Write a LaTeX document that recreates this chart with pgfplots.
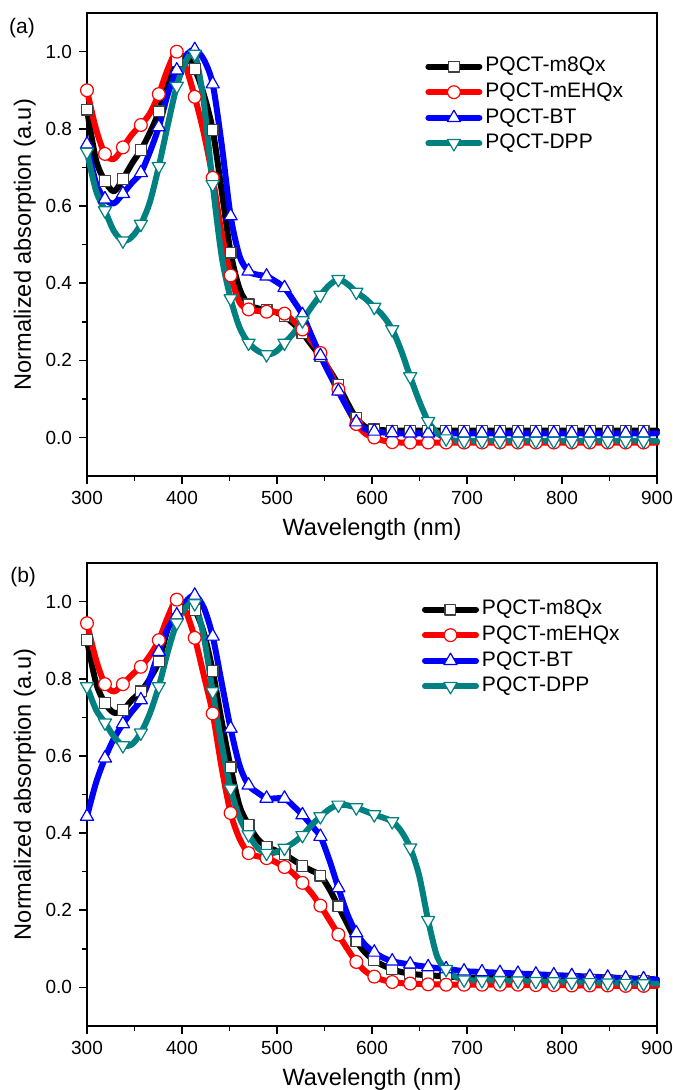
\documentclass[border=0pt]{standalone}
\usepackage{fontspec}
\setmainfont{Liberation Sans}
\usepackage{pgfplots}
\usepackage{pgfplotstable}
\pgfplotsset{compat=1.18}
\definecolor{dppteal}{RGB}{0,128,128}

% wavelength, panel (a) m8Qx mEHQx BT DPP, panel (b) m8Qx mEHQx BT DPP
\pgfplotstableread{
x      am     ae     ab     ad     bm     be     bb     bd
300.00 0.850  0.900  0.760  0.740  0.900  0.944  0.443  0.780
309.45 0.720  0.800  0.660  0.640  0.790  0.850  0.530  0.720
318.90 0.665  0.735  0.618  0.588  0.737  0.786  0.594  0.686
328.35 0.638  0.722  0.607  0.535  0.712  0.767  0.645  0.650
337.80 0.670  0.752  0.632  0.510  0.719  0.786  0.683  0.627
347.25 0.710  0.785  0.660  0.520  0.745  0.810  0.715  0.630
356.70 0.745  0.810  0.686  0.553  0.767  0.831  0.745  0.660
366.15 0.790  0.840  0.740  0.610  0.800  0.860  0.800  0.710
375.60 0.845  0.890  0.805  0.703  0.845  0.900  0.870  0.780
385.05 0.930  0.955  0.890  0.810  0.930  0.960  0.930  0.870
394.50 0.975  1.000  0.952  0.911  0.982  1.005  0.965  0.945
403.95 0.988  0.960  0.990  0.975  0.992  0.975  1.000  0.985
413.40 0.955  0.883  1.005  0.994  0.978  0.906  1.016  0.995
422.85 0.890  0.790  0.980  0.870  0.920  0.810  0.985  0.910
432.30 0.797  0.673  0.916  0.656  0.820  0.710  0.910  0.767
441.75 0.640  0.530  0.760  0.470  0.690  0.570  0.790  0.630
451.20 0.479  0.420  0.574  0.360  0.570  0.452  0.671  0.515
460.65 0.385  0.350  0.470  0.285  0.470  0.385  0.575  0.440
470.10 0.345  0.332  0.431  0.245  0.421  0.348  0.524  0.396
479.55 0.335  0.328  0.422  0.225  0.385  0.340  0.505  0.362
489.00 0.330  0.326  0.418  0.215  0.365  0.335  0.490  0.348
498.45 0.325  0.325  0.405  0.222  0.355  0.325  0.490  0.350
507.90 0.314  0.321  0.388  0.245  0.345  0.312  0.490  0.361
517.35 0.295  0.302  0.355  0.270  0.330  0.295  0.470  0.375
526.80 0.271  0.280  0.318  0.303  0.315  0.271  0.447  0.394
536.25 0.240  0.250  0.265  0.338  0.303  0.245  0.420  0.420
545.70 0.210  0.219  0.212  0.369  0.290  0.212  0.391  0.443
555.15 0.175  0.172  0.165  0.395  0.255  0.175  0.330  0.462
564.60 0.137  0.125  0.120  0.410  0.210  0.137  0.258  0.473
574.05 0.090  0.077  0.077  0.398  0.165  0.100  0.190  0.472
583.50 0.050  0.035  0.040  0.377  0.120  0.066  0.141  0.466
592.95 0.028  0.010  0.022  0.360  0.090  0.042  0.110  0.457
602.40 0.021  0.000  0.016  0.338  0.070  0.028  0.091  0.448
611.85 0.019 -0.008  0.013  0.315  0.057  0.019  0.077  0.440
621.30 0.018 -0.012  0.012  0.280  0.047  0.014  0.068  0.430
630.75 0.018 -0.013  0.011  0.225  0.040  0.011  0.063  0.405
640.20 0.018 -0.013  0.011  0.158  0.036  0.010  0.060  0.362
649.65 0.018 -0.013  0.011  0.095  0.033  0.009  0.056  0.290
659.10 0.018 -0.013  0.011  0.042  0.032  0.008  0.053  0.174
668.55 0.018 -0.013  0.011  0.012  0.030  0.008  0.050  0.080
678.00 0.018 -0.013  0.011 -0.003  0.028  0.007  0.048  0.047
687.45 0.018 -0.013  0.011 -0.008  0.027  0.007  0.045  0.028
696.90 0.018 -0.013  0.011 -0.009  0.026  0.007  0.042  0.020
706.35 0.018 -0.013  0.011 -0.009  0.025  0.007  0.041  0.018
715.80 0.018 -0.013  0.011 -0.009  0.025  0.007  0.040  0.018
725.25 0.018 -0.013  0.011 -0.009  0.024  0.007  0.039  0.018
734.70 0.018 -0.013  0.011 -0.009  0.024  0.007  0.038  0.018
744.15 0.018 -0.013  0.011 -0.009  0.023  0.007  0.037  0.017
753.60 0.018 -0.013  0.011 -0.009  0.023  0.007  0.036  0.017
763.05 0.018 -0.013  0.011 -0.009  0.022  0.006  0.035  0.016
772.50 0.018 -0.013  0.011 -0.009  0.022  0.006  0.034  0.016
781.95 0.018 -0.013  0.011 -0.009  0.021  0.006  0.033  0.015
791.40 0.018 -0.013  0.011 -0.009  0.021  0.006  0.032  0.015
800.85 0.018 -0.013  0.011 -0.009  0.020  0.006  0.031  0.014
810.30 0.018 -0.013  0.011 -0.009  0.020  0.005  0.030  0.014
819.75 0.018 -0.013  0.011 -0.009  0.019  0.005  0.029  0.013
829.20 0.018 -0.013  0.011 -0.009  0.019  0.005  0.028  0.013
838.65 0.018 -0.013  0.011 -0.009  0.018  0.005  0.027  0.012
848.10 0.018 -0.013  0.011 -0.009  0.018  0.005  0.026  0.012
857.55 0.018 -0.013  0.011 -0.009  0.017  0.004  0.025  0.011
867.00 0.018 -0.013  0.011 -0.009  0.017  0.004  0.024  0.011
876.45 0.018 -0.013  0.011 -0.009  0.016  0.004  0.023  0.010
885.90 0.018 -0.013  0.011 -0.009  0.016  0.004  0.022  0.010
900.00 0.018 -0.013  0.011 -0.009  0.015  0.004  0.021  0.010
}\spectra

\pgfplotsset{
  specax/.style={
    scale only axis, width=285pt, height=231.5pt, clip=false,
    xmin=300, xmax=900, ymin=-0.1, ymax=1.1,
    xtick={300,400,500,600,700,800,900}, minor x tick num=1,
    ytick={0,0.2,0.4,0.6,0.8,1.0}, minor y tick num=1,
    yticklabel style={/pgf/number format/.cd, fixed, fixed zerofill, precision=1},
    /pgf/number format/assume math mode=true,
    xtick pos=bottom, ytick pos=left, tick align=outside,
    major tick length=4pt, minor tick length=2.5pt,
    axis line style={line width=1pt}, tick style={line width=0.8pt, black},
    ticklabel style={font=\fontsize{9.5}{11}\selectfont},
    label style={font=\fontsize{11.8}{14}\selectfont},
    xlabel={Wavelength (nm)}, ylabel={Normalized absorption (a.u)},
    xlabel style={at={(axis description cs:0.5,-0.115)}, anchor=center},
    ylabel style={at={(axis description cs:-0.109,0.5)}, anchor=center},
    legend cell align=left,
    legend style={draw=none, fill=none, inner sep=0pt, row sep=0pt,
      font=\fontsize{10.5}{12}\selectfont,
      nodes={inner sep=1.5pt, text height=7.6pt, text depth=2.2pt}},
    legend image code/.code={\draw[mark repeat=2,mark phase=2]
      plot coordinates {(0pt,0pt) (12.75pt,0pt) (25.5pt,0pt)};},
  },
  curve/.style={line width=3pt, smooth, line cap=round, line join=round,
    mark repeat=2, mark phase=1},
  m8/.style={curve, black, mark=square*, mark size=2.7pt,
    mark options={solid, fill=white, draw=black!75, line width=0.6pt}},
  meh/.style={curve, red, mark=*, mark size=3.2pt,
    mark options={solid, fill=white, draw=red, line width=0.6pt}},
  bt/.style={curve, blue, mark=triangle*, mark size=3.8pt,
    mark options={solid, fill=white, draw=blue, line width=0.6pt}},
  dpp/.style={curve, dppteal, mark=triangle*, mark size=3.8pt,
    mark options={solid, fill=white, draw=dppteal, line width=0.6pt, rotate=180}},
}

\begin{document}
\begin{tikzpicture}
\begin{axis}[specax, at={(0,0)}, anchor=north west,
  legend style={at={(0.593,0.913)}, anchor=north west}]
\addplot[m8] table[x=x, y=am] {\spectra};
\addlegendentry{PQCT-m8Qx}
\addplot[meh] table[x=x, y=ae] {\spectra};
\addlegendentry{PQCT-mEHQx}
\addplot[bt] table[x=x, y=ab] {\spectra};
\addlegendentry{PQCT-BT}
\addplot[dpp] table[x=x, y=ad] {\spectra};
\addlegendentry{PQCT-DPP}
\node[font=\fontsize{10.5}{12}\selectfont] at (rel axis cs:-0.114,0.967) {(a)};
\end{axis}

\begin{axis}[specax, at={(0,-274.95pt)}, anchor=north west,
  legend style={at={(0.587,0.928)}, anchor=north west}]
\addplot[m8] table[x=x, y=bm] {\spectra};
\addlegendentry{PQCT-m8Qx}
\addplot[meh] table[x=x, y=be] {\spectra};
\addlegendentry{PQCT-mEHQx}
\addplot[bt] table[x=x, y=bb] {\spectra};
\addlegendentry{PQCT-BT}
\addplot[dpp] table[x=x, y=bd] {\spectra};
\addlegendentry{PQCT-DPP}
\node[font=\fontsize{10.5}{12}\selectfont] at (rel axis cs:-0.112,0.969) {(b)};
\end{axis}

\pgfresetboundingbox
\path[use as bounding box] (-43.5pt,6.55pt) rectangle (293pt,-538.45pt);
\end{tikzpicture}
\end{document}
